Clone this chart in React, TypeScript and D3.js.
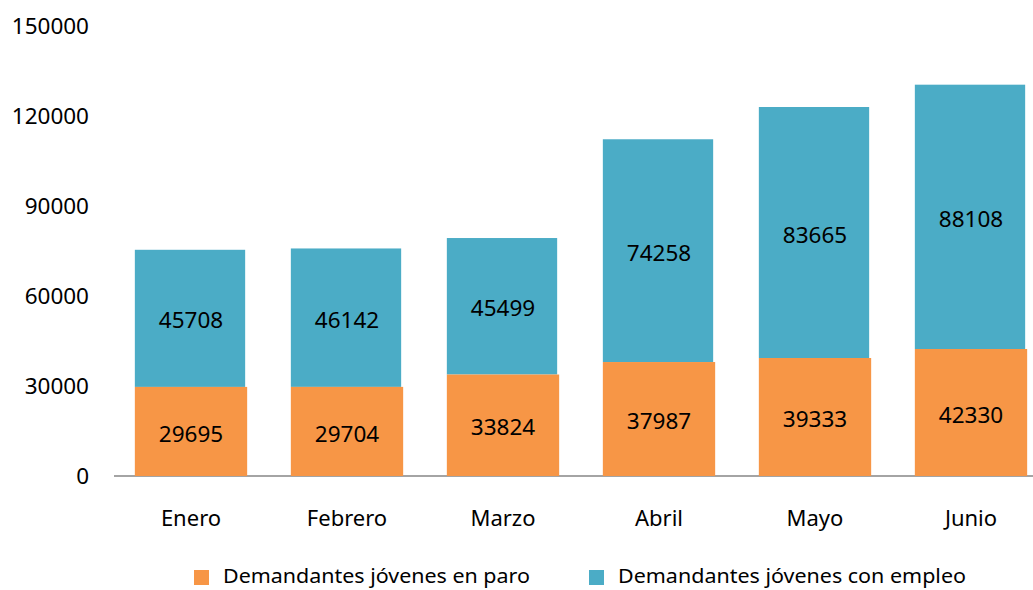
import React from "react";
import * as d3 from "d3";

const categories = ["Enero", "Febrero", "Marzo", "Abril", "Mayo", "Junio"];
const paro = [29695, 29704, 33824, 37987, 39333, 42330];
const empleo = [45708, 46142, 45499, 74258, 83665, 88108];
const yTicks = [0, 30000, 60000, 90000, 120000, 150000];
const seriesNames = ["Demandantes jóvenes en paro", "Demandantes jóvenes con empleo"];
const colors = ["#F79646", "#4BACC6"];

const W = 1033;
const H = 590;
const FONT = "'Noto Sans', 'Open Sans', sans-serif";

export default function App() {
  const y = d3.scaleLinear().domain([0, 150000]).range([476, 26]);
  const x = d3.scaleBand().domain(categories).range([113, 1049]).paddingInner(0.28).paddingOuter(0.14);
  const bw = x.bandwidth();
  return (
    <svg width={W} height={H} style={{ position: "absolute", left: 0, top: 0, background: "#fff" }}>
      <line x1={114} x2={W} y1={y(0)} y2={y(0)} stroke="#868686" strokeWidth={1.5} />
      {yTicks.map((t) => (
        <text key={t} x={89} y={y(t)} dy="0.36em" textAnchor="end" fontFamily={FONT} fontSize={22.5} fill="#000">
          {t}
        </text>
      ))}
      {categories.map((c, i) => {
        const x0 = x(c)!;
        const y0 = y(0);
        const y1 = y(paro[i]);
        const y2 = y(paro[i] + empleo[i]);
        return (
          <g key={c}>
            <rect x={x0} y={y2} width={bw - 2} height={y1 - y2} fill={colors[1]} />
            <rect x={x0} y={y1} width={bw} height={y0 - y1} fill={colors[0]} />
            <text x={x0 + bw / 2} y={(y0 + y1) / 2 + 2} dy="0.36em" textAnchor="middle" fontFamily={FONT} fontSize={22.5} fill="#000">
              {paro[i]}
            </text>
            <text x={x0 + bw / 2} y={(y1 + y2) / 2 + 2} dy="0.36em" textAnchor="middle" fontFamily={FONT} fontSize={22.5} fill="#000">
              {empleo[i]}
            </text>
            <text x={x0 + bw / 2} y={518} dy="0.36em" textAnchor="middle" fontFamily={FONT} fontSize={22} fill="#000">
              {c}
            </text>
          </g>
        );
      })}
      {seriesNames.map((s, i) => {
        const lx = i === 0 ? 194 : 589;
        const tl = i === 0 ? 307 : 348;
        return (
          <g key={s}>
            <rect x={lx} y={570} width={15} height={15} fill={colors[i]} />
            <text x={lx + 29} y={576} dy="0.36em" fontFamily={FONT} fontSize={20} fill="#000" textLength={tl} lengthAdjust="spacingAndGlyphs">
              {s}
            </text>
          </g>
        );
      })}
    </svg>
  );
}
